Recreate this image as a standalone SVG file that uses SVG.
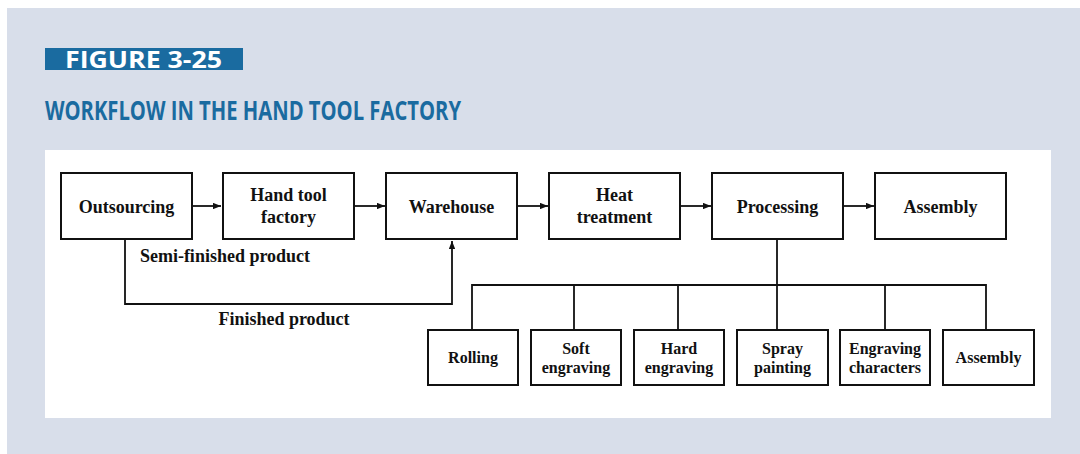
<svg xmlns="http://www.w3.org/2000/svg" width="1080" height="454" viewBox="0 0 1080 454">
<defs>
<marker id="ah" viewBox="0 0 10 8" refX="10" refY="4" markerWidth="8" markerHeight="6.4" markerUnits="userSpaceOnUse" orient="auto">
<path d="M0,0 L10,4 L0,8 Z" fill="#111"/>
</marker>
<style>
.box{fill:#fff;stroke:#111;stroke-width:2}
.t{font-family:"Liberation Serif","Times New Roman",serif;font-weight:bold;font-size:18px;fill:#111;text-anchor:middle}
.s{font-size:16px}
.ln{fill:none;stroke:#111;stroke-width:1.8}
.hd{font-family:"Open Sans","Liberation Sans",sans-serif;font-weight:bold}
</style>
</defs>
<rect x="0" y="0" width="1080" height="454" fill="#fff"/>
<rect x="7" y="8" width="1073" height="446" fill="#d8deea"/>
<g id="figure-label">
<rect x="45" y="48" width="198" height="22" fill="#1a6ba0"/>
<text class="hd" x="65" y="68" font-size="24" fill="#fff" textLength="157" lengthAdjust="spacingAndGlyphs">FIGURE 3-25</text>
</g>
<g id="title">
<text class="hd" x="45" y="120" font-size="26" fill="#1a6ba0" textLength="416" lengthAdjust="spacingAndGlyphs">WORKFLOW IN THE HAND TOOL FACTORY</text>
</g>
<rect x="45" y="150" width="1006" height="268" fill="#fff"/>
<g id="connectors">
<line class="ln" x1="192" y1="206" x2="221" y2="206" marker-end="url(#ah)"/>
<line class="ln" x1="355" y1="206" x2="385" y2="206" marker-end="url(#ah)"/>
<line class="ln" x1="518" y1="206" x2="548" y2="206" marker-end="url(#ah)"/>
<line class="ln" x1="681" y1="206" x2="711" y2="206" marker-end="url(#ah)"/>
<line class="ln" x1="844" y1="206" x2="874" y2="206" marker-end="url(#ah)"/>
<polyline class="ln" points="125,240 125,304 452,304 452,241" marker-end="url(#ah)"/>
<line class="ln" x1="777" y1="240" x2="777" y2="330"/>
<polyline class="ln" points="472,330 472,285 986,285 986,330"/>
<line class="ln" x1="574" y1="285" x2="574" y2="330"/>
<line class="ln" x1="678" y1="285" x2="678" y2="330"/>
<line class="ln" x1="885" y1="285" x2="885" y2="330"/>
<text class="t" x="225" y="262">Semi-finished product</text>
<text class="t" x="284" y="325">Finished product</text>
</g>
<g id="outsourcing"><rect class="box" x="61" y="173" width="131" height="66"/><text class="t" x="126.5" y="213">Outsourcing</text></g>
<g id="hand-tool-factory"><rect class="box" x="223" y="173" width="131" height="66"/><text class="t" x="288.5" y="201">Hand tool</text><text class="t" x="288.5" y="223">factory</text></g>
<g id="warehouse"><rect class="box" x="386" y="173" width="131" height="66"/><text class="t" x="451.5" y="213">Warehouse</text></g>
<g id="heat-treatment"><rect class="box" x="549" y="173" width="131" height="66"/><text class="t" x="614.5" y="201">Heat</text><text class="t" x="614.5" y="223">treatment</text></g>
<g id="processing"><rect class="box" x="712" y="173" width="131" height="66"/><text class="t" x="777.5" y="213">Processing</text></g>
<g id="assembly-top"><rect class="box" x="875" y="173" width="131" height="66"/><text class="t" x="940.5" y="213">Assembly</text></g>
<g id="rolling"><rect class="box" x="428" y="330" width="90" height="55"/><text class="t s" x="473" y="363">Rolling</text></g>
<g id="soft-engraving"><rect class="box" x="531" y="330" width="90" height="55"/><text class="t s" x="576" y="354">Soft</text><text class="t s" x="576" y="373">engraving</text></g>
<g id="hard-engraving"><rect class="box" x="634" y="330" width="90" height="55"/><text class="t s" x="679" y="354">Hard</text><text class="t s" x="679" y="373">engraving</text></g>
<g id="spray-painting"><rect class="box" x="737" y="330" width="91" height="55"/><text class="t s" x="782.5" y="354">Spray</text><text class="t s" x="782.5" y="373">painting</text></g>
<g id="engraving-characters"><rect class="box" x="840" y="330" width="90" height="55"/><text class="t s" x="885" y="354">Engraving</text><text class="t s" x="885" y="373">characters</text></g>
<g id="assembly-bottom"><rect class="box" x="943" y="330" width="91" height="55"/><text class="t s" x="988.5" y="363">Assembly</text></g>
</svg>
